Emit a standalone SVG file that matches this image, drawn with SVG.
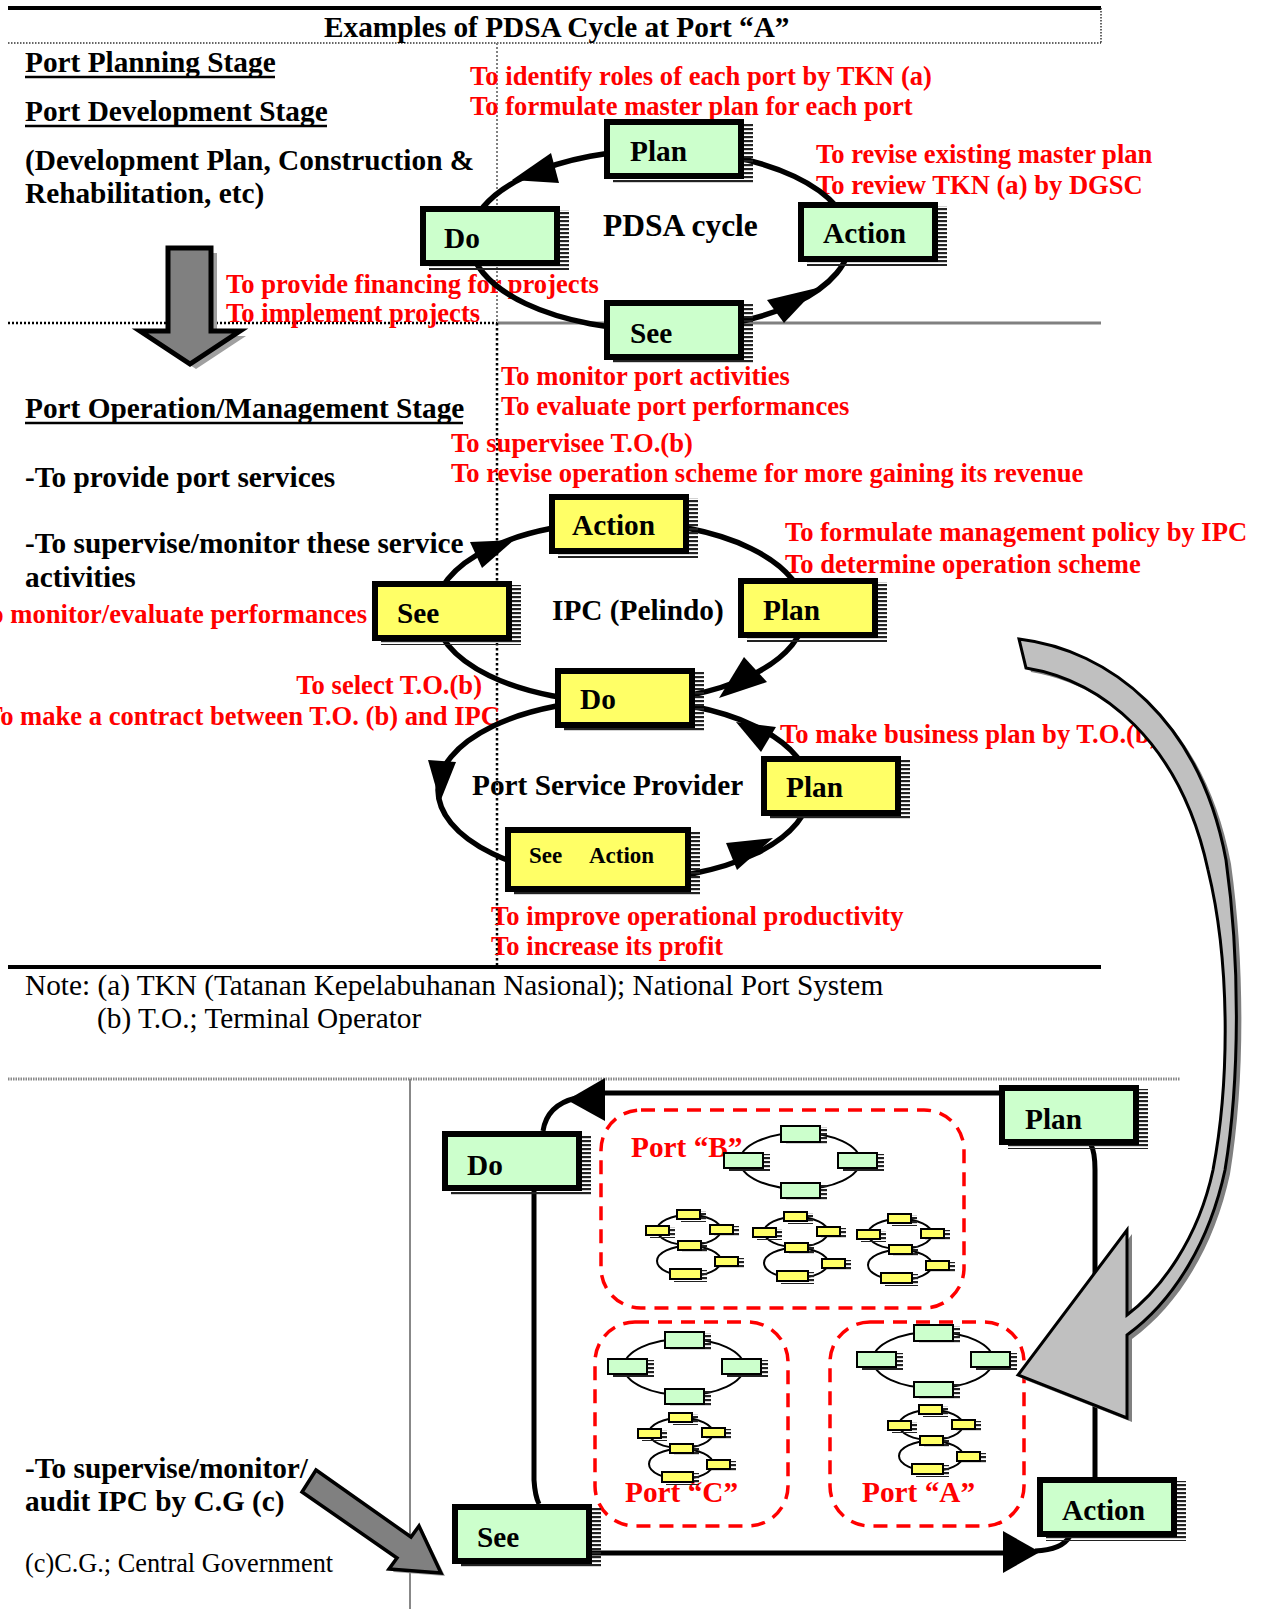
<svg xmlns="http://www.w3.org/2000/svg" xmlns:xlink="http://www.w3.org/1999/xlink" width="1262" height="1609" viewBox="0 0 1262 1609">
<defs>
<style>
text{font-family:"Liberation Serif","Times New Roman",serif;}
.b{font-weight:bold;font-size:29.3px;fill:#000}
.r{font-weight:bold;font-size:26.6px;fill:#f00}
.pr{font-weight:bold;font-size:29.3px;fill:#f00}
.n{font-size:29.3px;fill:#000}
.box{stroke:#000;stroke-width:6}
.g{fill:#ccffcc}
.y{fill:#ffff66}
.sh{fill:url(#hatch)}
.cyc{fill:none;stroke:#000;stroke-width:5.5}
.mb{stroke:#000;stroke-width:2}
.me{fill:none;stroke:#000;stroke-width:2}
.ln{fill:none;stroke:#000;stroke-width:5}
.port{fill:none;stroke:#f00;stroke-width:3.5;stroke-dasharray:14 9}
</style>
<pattern id="hatch" width="4" height="4" patternUnits="userSpaceOnUse"><rect width="4" height="2.2" fill="#222"/></pattern>
<!-- small green PDSA cycle icon, centred on its ellipse -->
<g id="miniG">
<ellipse cx="0" cy="0" rx="60" ry="28" class="me"/>
<rect x="-14" y="-34" width="41" height="18" class="sh"/><rect x="-19" y="-35" width="39" height="16" class="g mb"/>
<rect x="-71" y="-7" width="41" height="17" class="sh"/><rect x="-76" y="-8" width="39" height="15" class="g mb"/>
<rect x="43" y="-7" width="41" height="17" class="sh"/><rect x="38" y="-8" width="39" height="15" class="g mb"/>
<rect x="-14" y="23" width="41" height="17" class="sh"/><rect x="-19" y="22" width="39" height="15" class="g mb"/>
</g>
<!-- small yellow IPC + service provider double cycle icon -->
<g id="miniY">
<ellipse cx="44" cy="21" rx="32" ry="15" class="me"/>
<ellipse cx="44" cy="52" rx="32" ry="15" class="me"/>
<rect x="36" y="2" width="25" height="11" class="sh"/><rect x="32" y="1" width="23" height="9" class="y mb"/>
<rect x="5" y="18" width="25" height="11" class="sh"/><rect x="1" y="17" width="23" height="9" class="y mb"/>
<rect x="69" y="17" width="25" height="11" class="sh"/><rect x="65" y="16" width="23" height="9" class="y mb"/>
<rect x="37" y="33" width="25" height="11" class="sh"/><rect x="33" y="32" width="23" height="9" class="y mb"/>
<rect x="74" y="49" width="25" height="11" class="sh"/><rect x="70" y="48" width="23" height="9" class="y mb"/>
<rect x="29" y="61" width="33" height="12" class="sh"/><rect x="25" y="60" width="31" height="10" class="y mb"/>
</g>
</defs>

<rect width="1262" height="1609" fill="#fff"/>

<!-- frame and divider lines -->
<g id="dividers">
<path d="M8,8 H1101" stroke="#000" stroke-width="4"/>
<path d="M8,43 H1101 M1101,8 V43" stroke="#333" stroke-width="1.5" stroke-dasharray="1.5 1.5" fill="none"/>
<path d="M8,323 H497" stroke="#000" stroke-width="2.5" stroke-dasharray="2 2"/>
<path d="M497,323 H1101" stroke="#808080" stroke-width="3"/>
<path d="M497,43 V323" stroke="#808080" stroke-width="2" stroke-dasharray="2 2"/>
<path d="M497,323 V967" stroke="#000" stroke-width="2.5" stroke-dasharray="2.5 2.5"/>
<path d="M8,967 H1101" stroke="#000" stroke-width="4"/>
<path d="M8,1079 H1180" stroke="#888" stroke-width="3" stroke-dasharray="1.5 1"/>
<path d="M410,1079 V1609" stroke="#888" stroke-width="2"/>
</g>

<!-- headings and notes -->
<g id="labels">
<text x="324" y="37" class="b">Examples of PDSA Cycle at Port “A”</text>
<text x="25" y="72" class="b">Port Planning Stage</text>
<path d="M25,77 H275" stroke="#000" stroke-width="2.5"/>
<text x="25" y="121" class="b">Port Development Stage</text>
<path d="M25,126 H327" stroke="#000" stroke-width="2.5"/>
<text x="25" y="170" class="b">(Development Plan, Construction &amp;</text>
<text x="25" y="203" class="b">Rehabilitation, etc)</text>
<text x="25" y="418" class="b">Port Operation/Management Stage</text>
<path d="M25,423 H463" stroke="#000" stroke-width="2.5"/>
<text x="25" y="487" class="b">-To provide port services</text>
<text x="25" y="553" class="b">-To supervise/monitor these service</text>
<text x="25" y="587" class="b">activities</text>
<text x="603" y="236" class="b" style="font-size:31.5px">PDSA cycle</text>
<text x="552" y="620" class="b">IPC (Pelindo)</text>
<text x="472" y="795" class="b">Port Service Provider</text>
<text x="25" y="995" class="n">Note: (a) TKN (Tatanan Kepelabuhanan Nasional); National Port System</text>
<text x="97" y="1028" class="n">(b) T.O.; Terminal Operator</text>
<text x="25" y="1478" class="b">-To supervise/monitor/</text>
<text x="25" y="1511" class="b">audit IPC by C.G (c)</text>
<text x="25" y="1572" class="n" style="font-size:26.3px">(c)C.G.; Central Government</text>
</g>

<!-- red role annotations -->
<g id="roles">
<text x="470" y="85" class="r">To identify roles of each port by TKN (a)</text>
<text x="470" y="115" class="r">To formulate master plan for each port</text>
<text x="816" y="163" class="r">To revise existing master plan</text>
<text x="816" y="194" class="r">To review TKN (a) by DGSC</text>
<text x="226" y="293" class="r">To provide financing for projects</text>
<text x="226" y="322" class="r">To implement projects</text>
<text x="501" y="385" class="r">To monitor port activities</text>
<text x="501" y="415" class="r">To evaluate port performances</text>
<text x="451" y="452" class="r">To supervisee T.O.(b)</text>
<text x="451" y="482" class="r">To revise operation scheme for more gaining its revenue</text>
<text x="785" y="541" class="r">To formulate management policy by IPC</text>
<text x="785" y="573" class="r">To determine operation scheme</text>
<text x="367" y="623" class="r" text-anchor="end">To monitor/evaluate performances</text>
<text x="482" y="694" class="r" text-anchor="end">To select T.O.(b)</text>
<text x="500" y="725" class="r" text-anchor="end">To make a contract between T.O. (b) and IPC</text>
<text x="780" y="743" class="r">To make business plan by T.O.(b)</text>
<text x="491" y="925" class="r">To improve operational productivity</text>
<text x="491" y="955" class="r">To increase its profit</text>
</g>

<!-- stage transition arrow -->
<g id="stage-arrow">
<polygon points="174,253 217,253 217,336 246,336 196,369 146,336 174,336" fill="#a0a0a0"/>
<polygon points="168,248 211,248 211,331 240,331 190,364 140,331 168,331" fill="#808080" stroke="#000" stroke-width="5"/>
</g>

<!-- connectors -->
<g id="connectors">
<ellipse cx="660" cy="240" rx="190" ry="90" class="cyc"/>
<polygon points="551,153 559,183 512,180"/>
<polygon points="767,300 784,323 817,288"/>
<ellipse cx="620" cy="612" rx="185" ry="90" class="cyc"/>
<polygon points="470,542 482,568 514,540"/>
<polygon points="744,657 767,682 719,698"/>
<ellipse cx="624" cy="790" rx="186" ry="90" class="cyc"/>
<polygon points="428,760 456,762 440,802"/>
<polygon points="776,727 761,752 736,722"/>
<polygon points="726,843 737,870 773,838"/>
<path d="M999,1093 H605" class="ln"/>
<polygon points="605,1078 605,1121 567,1100"/>
<path d="M543,1131 Q547,1105 576,1098" class="ln"/>
<path d="M534,1190 V1480 Q535,1496 539,1504" class="ln"/>
<path d="M592,1553 H1005" class="ln"/>
<polygon points="1003,1531 1003,1573 1040,1552"/>
<path d="M1035,1551 Q1062,1550 1070,1536" class="ln"/>
<path d="M1095,1477 V1170 Q1095,1152 1091,1145" class="ln"/>
</g>

<!-- port groupings -->
<g id="port-b">
<rect x="601" y="1110" width="363" height="198" rx="40" class="port"/>
<text x="631" y="1157" class="pr">Port “B”</text>
<use xlink:href="#miniG" x="800" y="1161"/>
<use xlink:href="#miniY" x="645" y="1209"/>
<use xlink:href="#miniY" x="752" y="1211"/>
<use xlink:href="#miniY" x="856" y="1213"/>
</g>
<g id="port-c">
<rect x="595" y="1322" width="193" height="204" rx="40" class="port"/>
<text x="625" y="1502" class="pr">Port “C”</text>
<use xlink:href="#miniG" x="684" y="1367"/>
<use xlink:href="#miniY" x="637" y="1412"/>
</g>
<g id="port-a">
<rect x="830" y="1322" width="194" height="204" rx="40" class="port"/>
<text x="862" y="1502" class="pr">Port “A”</text>
<use xlink:href="#miniG" x="933" y="1360"/>
<use xlink:href="#miniY" x="887" y="1404"/>
</g>

<!-- planning stage PDSA nodes -->
<g id="pdsa-plan"><rect x="613" y="123" width="140" height="60" class="sh"/><rect x="607" y="122" width="134" height="54" class="box g"/><text x="630" y="161" class="b">Plan</text></g>
<g id="pdsa-do"><rect x="429" y="210" width="140" height="60" class="sh"/><rect x="423" y="209" width="134" height="54" class="box g"/><text x="444" y="248" class="b">Do</text></g>
<g id="pdsa-action"><rect x="807" y="206" width="140" height="60" class="sh"/><rect x="801" y="205" width="134" height="54" class="box g"/><text x="823" y="243" class="b">Action</text></g>
<g id="pdsa-see"><rect x="613" y="304" width="140" height="60" class="sh"/><rect x="607" y="303" width="134" height="54" class="box g"/><text x="630" y="343" class="b">See</text></g>

<!-- IPC cycle nodes -->
<g id="ipc-action"><rect x="558" y="498" width="140" height="60" class="sh"/><rect x="552" y="497" width="134" height="54" class="box y"/><text x="572" y="535" class="b">Action</text></g>
<g id="ipc-see"><rect x="381" y="585" width="140" height="60" class="sh"/><rect x="375" y="584" width="134" height="54" class="box y"/><text x="397" y="623" class="b">See</text></g>
<g id="ipc-plan"><rect x="747" y="582" width="140" height="60" class="sh"/><rect x="741" y="581" width="134" height="54" class="box y"/><text x="763" y="620" class="b">Plan</text></g>
<g id="ipc-do"><rect x="564" y="672" width="140" height="60" class="sh"/><rect x="558" y="671" width="134" height="54" class="box y"/><text x="580" y="709" class="b">Do</text></g>

<!-- port service provider nodes -->
<g id="psp-plan"><rect x="770" y="760" width="140" height="60" class="sh"/><rect x="764" y="759" width="134" height="54" class="box y"/><text x="786" y="797" class="b">Plan</text></g>
<g id="psp-see-action"><rect x="514" y="831" width="186" height="65" class="sh"/><rect x="508" y="830" width="180" height="59" class="box y"/><text y="863" class="b" style="font-size:23px"><tspan x="529">See</tspan><tspan x="589">Action</tspan></text></g>

<!-- central government loop nodes -->
<g id="cg-plan"><rect x="1008" y="1089" width="140" height="60" class="sh"/><rect x="1002" y="1088" width="134" height="54" class="box g"/><text x="1025" y="1129" class="b">Plan</text></g>
<g id="cg-do"><rect x="451" y="1135" width="140" height="60" class="sh"/><rect x="445" y="1134" width="134" height="54" class="box g"/><text x="467" y="1175" class="b">Do</text></g>
<g id="cg-see"><rect x="461" y="1508" width="140" height="60" class="sh"/><rect x="455" y="1507" width="134" height="54" class="box g"/><text x="477" y="1547" class="b">See</text></g>
<g id="cg-action"><rect x="1046" y="1481" width="140" height="60" class="sh"/><rect x="1040" y="1480" width="134" height="54" class="box g"/><text x="1062" y="1520" class="b">Action</text></g>

<!-- curved arrow from the IPC cycle down to Port A -->
<g id="curved-arrow">
<path transform="translate(5,4)" fill="#808080" d="M1019,639 C1110,650 1200,720 1226,860 C1240,960 1240,1080 1225,1170 C1210,1240 1175,1300 1127,1335 L1127,1418 L1018,1375 L1127,1230 L1127,1315 C1160,1290 1198,1240 1213,1170 C1230,1080 1230,960 1208,870 C1180,740 1100,680 1026,668 Z"/>
<path fill="#c0c0c0" stroke="#000" stroke-width="3" d="M1019,639 C1110,650 1200,720 1226,860 C1240,960 1240,1080 1225,1170 C1210,1240 1175,1300 1127,1335 L1127,1418 L1018,1375 L1127,1230 L1127,1315 C1160,1290 1198,1240 1213,1170 C1230,1080 1230,960 1208,870 C1180,740 1100,680 1026,668 Z"/>
</g>

<!-- supervision arrow from central government -->
<g id="cg-arrow">
<polygon points="320,1473 415,1540 422,1529 445,1576 393,1572 400,1561 305,1495" fill="#a6a6a6"/>
<polygon points="316,1470 411,1537 419,1526 441,1573 389,1569 397,1558 302,1492" fill="#808080" stroke="#000" stroke-width="3.5"/>
</g>
</svg>
